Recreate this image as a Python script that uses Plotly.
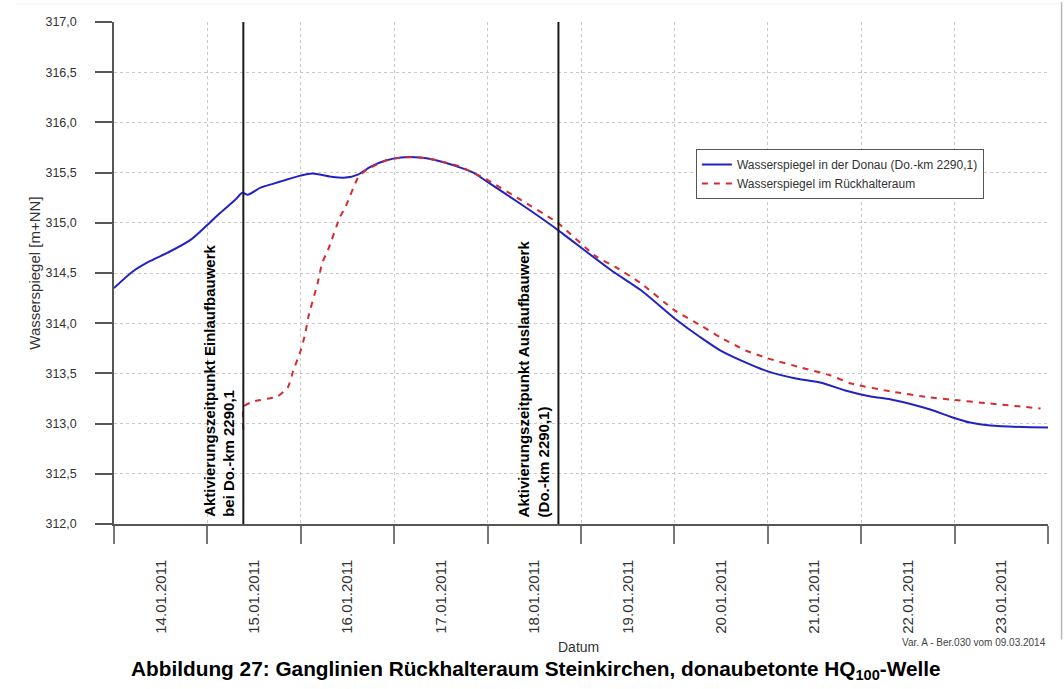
import plotly.graph_objects as go

# ---- data ----
donau_time = [
    "2011-01-14 00:00", "2011-01-14 05:00", "2011-01-14 09:20", "2011-01-14 13:40",
    "2011-01-14 19:40", "2011-01-15 00:00", "2011-01-15 03:20", "2011-01-15 07:10",
    "2011-01-15 09:00", "2011-01-15 10:20", "2011-01-15 13:40", "2011-01-15 17:00",
    "2011-01-15 19:30", "2011-01-16 00:00", "2011-01-16 03:00", "2011-01-16 07:40",
    "2011-01-16 11:30", "2011-01-16 14:40", "2011-01-16 18:00", "2011-01-16 21:50",
    "2011-01-17 01:40", "2011-01-17 06:40", "2011-01-17 10:00", "2011-01-17 17:00",
    "2011-01-17 20:20", "2011-01-18 00:15", "2011-01-18 08:25", "2011-01-18 13:40",
    "2011-01-18 18:00", "2011-01-19 07:40", "2011-01-19 15:20", "2011-01-20 00:00",
    "2011-01-20 06:40", "2011-01-20 11:45", "2011-01-20 18:15", "2011-01-21 00:00",
    "2011-01-21 07:10", "2011-01-21 13:25", "2011-01-21 19:55", "2011-01-22 02:25",
    "2011-01-22 07:40", "2011-01-22 17:45", "2011-01-22 22:50", "2011-01-23 04:00",
    "2011-01-23 09:10", "2011-01-24 00:00",
]
donau_level = [
    314.35, 314.52, 314.62, 314.70,
    314.83, 314.98, 315.10, 315.23,
    315.30, 315.28, 315.35, 315.39,
    315.42, 315.47, 315.49, 315.46,
    315.45, 315.48, 315.56, 315.62,
    315.65, 315.65, 315.63, 315.55,
    315.50, 315.40, 315.19, 315.05,
    314.93, 314.53, 314.33, 314.05,
    313.86, 313.73, 313.61, 313.52,
    313.45, 313.41, 313.33, 313.27,
    313.24, 313.14, 313.07, 313.01,
    312.98, 312.96,
]

rueckhalt_time = [
    "2011-01-15 09:14", "2011-01-15 09:20", "2011-01-15 11:45", "2011-01-15 18:00",
    "2011-01-15 20:40", "2011-01-15 22:05", "2011-01-16 00:00", "2011-01-16 01:10",
    "2011-01-16 01:55", "2011-01-16 04:20", "2011-01-16 05:30", "2011-01-16 07:00",
    "2011-01-16 10:05", "2011-01-16 11:30", "2011-01-16 14:50", "2011-01-16 17:00",
    "2011-01-16 21:50", "2011-01-17 01:40", "2011-01-17 06:40", "2011-01-17 10:00",
    "2011-01-17 17:00", "2011-01-18 00:15", "2011-01-18 08:25", "2011-01-18 18:00",
    "2011-01-19 03:40", "2011-01-19 08:50", "2011-01-19 15:20", "2011-01-20 00:00",
    "2011-01-20 06:40", "2011-01-20 11:45", "2011-01-20 18:15", "2011-01-21 00:00",
    "2011-01-21 08:25", "2011-01-21 16:05", "2011-01-21 21:20", "2011-01-22 07:40",
    "2011-01-22 17:45", "2011-01-22 22:50", "2011-01-23 09:10", "2011-01-23 22:05",
]
rueckhalt_level = [
    312.94, 313.17, 313.22, 313.27,
    313.36, 313.53, 313.73, 313.90,
    314.06, 314.40, 314.60, 314.73,
    315.06, 315.16, 315.46, 315.53,
    315.62, 315.65, 315.65, 315.63,
    315.56, 315.42, 315.23, 315.00,
    314.67, 314.56, 314.40, 314.13,
    313.98, 313.86, 313.73, 313.65,
    313.56, 313.48, 313.40, 313.32,
    313.26, 313.24, 313.20, 313.15,
]

activation_times = ["2011-01-15 09:14", "2011-01-18 18:12"]
activation_labels = [
    "Aktivierungszeitpunkt Einlaufbauwerk<br>bei Do.-km 2290,1",
    "Aktivierungszeitpunkt Auslaufbauwerk<br>(Do.-km 2290,1)",
]
series_names = [
    "Wasserspiegel in der Donau (Do.-km 2290,1)",
    "Wasserspiegel im Rückhalteraum",
]

FONT = "Liberation Sans, Arial, sans-serif"

fig = go.Figure()
fig.add_trace(go.Scatter(
    x=donau_time, y=donau_level, mode="lines", name=series_names[0],
    line=dict(color="#2222c4", width=2, shape="spline", smoothing=0.8),
))
fig.add_trace(go.Scatter(
    x=rueckhalt_time, y=rueckhalt_level, mode="lines", name=series_names[1],
    line=dict(color="#d62a30", width=2, dash="6px,6px", shape="spline", smoothing=0.5),
))

for t, lab in zip(activation_times, activation_labels):
    fig.add_shape(type="line", xref="x", yref="paper", x0=t, x1=t, y0=0, y1=1,
                  line=dict(color="#1a1a1a", width=2))
    fig.add_annotation(x=t, y=312.0, xref="x", yref="y", text=lab, textangle=-90,
                       showarrow=False, xanchor="right", yanchor="bottom",
                       xshift=-4, yshift=5, align="left",
                       font=dict(family=FONT, size=15, color="#000000", weight="bold"))

# faint page frame at the right and top edges
fig.add_shape(type="line", xref="paper", yref="paper", x0=1.0145, x1=1.0145, y0=-0.23, y1=1.04,
              line=dict(color="#b8b8b8", width=1.5))
fig.add_shape(type="line", xref="paper", yref="paper", x0=-0.105, x1=1.0145, y0=1.036, y1=1.036,
              line=dict(color="#f0f0f0", width=1))

fig.add_annotation(x=0.497, y=-0.245, xref="paper", yref="paper", text="Datum",
                   showarrow=False, yanchor="middle",
                   font=dict(family=FONT, size=14, color="#333333"))
fig.add_annotation(x=1.0, y=-0.237, xref="paper", yref="paper",
                   text="Var. A - Ber.030 vom 09.03.2014", showarrow=False,
                   xanchor="right", yanchor="middle",
                   font=dict(family=FONT, size=10, color="#444444"))
fig.add_annotation(x=-0.086, y=0.5, xref="paper", yref="paper",
                   text="Wasserspiegel [m+NN]", textangle=-90, showarrow=False,
                   xanchor="center", yanchor="middle",
                   font=dict(family=FONT, size=15, color="#333333"))
fig.add_annotation(x=0.452, y=-0.291, xref="paper", yref="paper",
                   text="Abbildung 27: Ganglinien Rückhalteraum Steinkirchen, donaubetonte HQ<sub>100</sub>-Welle",
                   showarrow=False, yanchor="middle",
                   font=dict(family=FONT, size=20.8, color="#000000", weight="bold"))

fig.update_layout(
    width=1064, height=689,
    margin=dict(l=114, r=16, t=22, b=165),
    paper_bgcolor="white", plot_bgcolor="white",
    separators=",.",
    font=dict(family=FONT, size=13, color="#333333"),
    showlegend=True,
    legend=dict(x=0.623, y=0.747, xanchor="left", yanchor="top",
                bgcolor="white", bordercolor="#555555", borderwidth=1,
                font=dict(family=FONT, size=12, color="#333333"),
                tracegroupgap=0, itemwidth=30),
    xaxis=dict(
        type="date", range=["2011-01-14", "2011-01-24"],
        dtick=86400000, tick0="2011-01-14", tickformat="%d.%m.%Y",
        ticklabelmode="period", tickangle=-90, ticklabelstandoff=10,
        showgrid=True, gridcolor="#c8c8c8", griddash="dot", gridwidth=1,
        showline=True, linecolor="#555555", linewidth=1.5,
        ticks="outside", ticklen=18, tickcolor="#777777", tickwidth=1.5,
        zeroline=False, tickfont=dict(size=15, color="#333333"),
    ),
    yaxis=dict(
        range=[312, 317], dtick=0.5, tickformat=".1f", ticklabelstandoff=16,
        showgrid=True, gridcolor="#c8c8c8", griddash="dot", gridwidth=1,
        showline=True, linecolor="#555555", linewidth=1.5,
        ticks="outside", ticklen=17, tickcolor="#555555", tickwidth=1.5,
        zeroline=False, tickfont=dict(size=12.5, color="#333333"),
    ),
)

fig.write_html("out.html")
